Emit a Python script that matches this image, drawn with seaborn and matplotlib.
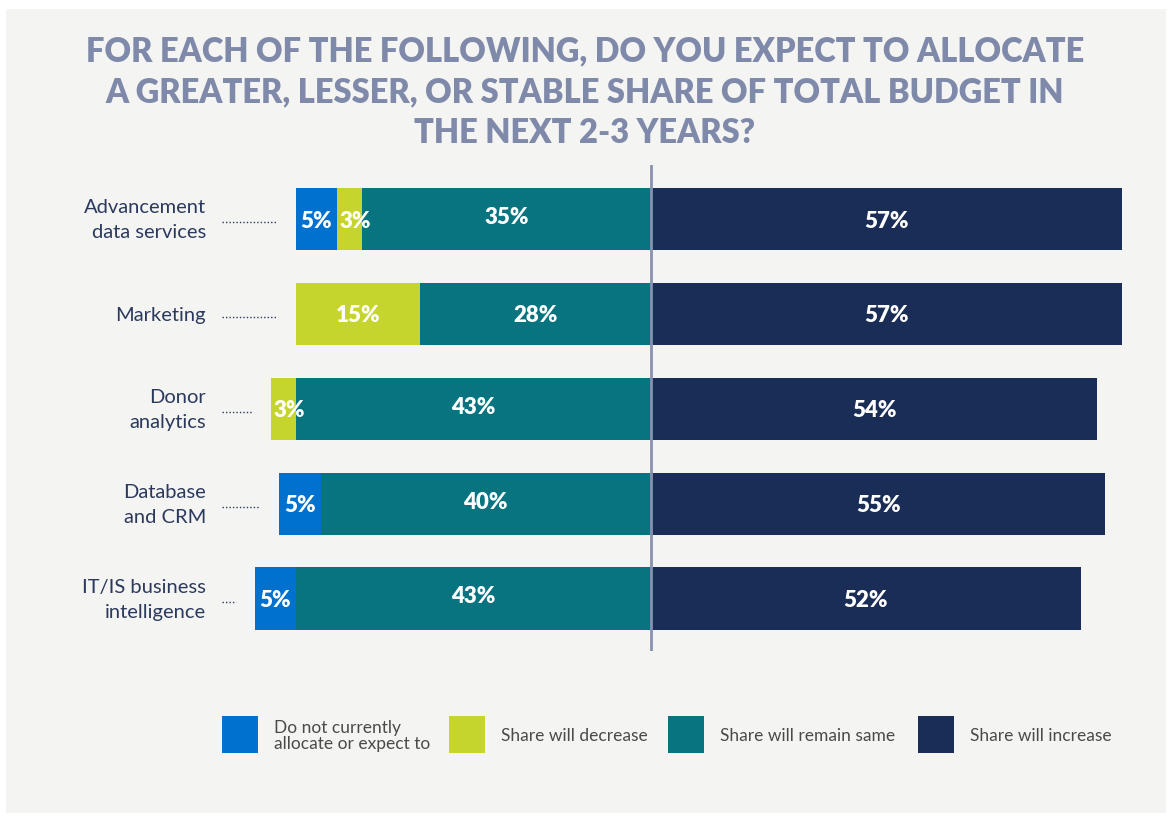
import matplotlib
matplotlib.use("Agg")
import matplotlib.pyplot as plt
import matplotlib.patches as mpatches
import seaborn as sns
import pandas as pd

categories = ["Advancement\ndata services", "Marketing", "Donor\nanalytics",
              "Database\nand CRM", "IT/IS business\nintelligence"]
do_not = [5, 0, 0, 5, 5]
decrease = [3, 15, 3, 0, 0]
remain = [35, 28, 43, 40, 43]
increase = [57, 57, 54, 55, 52]
series_names = ["Do not currently\nallocate or expect to", "Share will decrease",
                "Share will remain same", "Share will increase"]
title = "FOR EACH OF THE FOLLOWING, DO YOU EXPECT TO ALLOCATE\nA GREATER, LESSER, OR STABLE SHARE OF TOTAL BUDGET IN\nTHE NEXT 2-3 YEARS?"

colors = ["#0071ce", "#c5d52e", "#077480", "#1a2d57"]
BG = "#f4f4f2"

sns.set_theme(style="white")
plt.rcParams['font.family'] = ['Lato', 'DejaVu Sans']

W, H = 1174, 820
fig = plt.figure(figsize=(W / 100, H / 100), dpi=100)
fig.patch.set_facecolor("white")
fig.patches.append(mpatches.Rectangle((6 / W, 1 - 814 / H), 1160 / W, 804 / H,
                                      transform=fig.transFigure, facecolor=BG,
                                      edgecolor="none", zorder=-10))

ppu = 8.26  # px per percent
cx = 651
axl, axr = 150, 1150
ax = fig.add_axes([axl / W, 1 - 652 / H, (axr - axl) / W, (652 - 166) / H])
ax.set_facecolor("none")

df = pd.DataFrame({"cat": categories, "do": do_not, "dec": decrease,
                   "rem": remain, "inc": increase})
df["left_total"] = -(df["do"] + df["dec"] + df["rem"])
df["left_dec"] = -(df["dec"] + df["rem"])
df["left_rem"] = -df["rem"]

for col, c in [("left_total", colors[0]), ("left_dec", colors[1]),
               ("left_rem", colors[2]), ("inc", colors[3])]:
    sns.barplot(data=df, y="cat", x=col, orient="h", color=c, width=0.66,
                saturation=1, ax=ax, linewidth=0, edgecolor="none")

ax.set_xlim((axl - cx) / ppu, (axr - cx) / ppu)
ax.set_ylim(4.55, -0.57)
for s in ax.spines.values():
    s.set_visible(False)
ax.set_xticks([])
ax.set_yticks([])
ax.set_xlabel("")
ax.set_ylabel("")
ax.axvline(0, color="#8a90b0", lw=2, zorder=5)

lab_kw = dict(color="white", fontsize=16, fontweight="heavy", ha="center", va="center",
              zorder=6, family=['Lato', 'DejaVu Sans'])
for i in range(len(categories)):
    d, de, r, inc = do_not[i], decrease[i], remain[i], increase[i]
    segs = [(-(d + de + r), -(de + r), d), (-(de + r), -r, de), (-r, 0, r), (0, inc, inc)]
    for k, (a, b, v) in enumerate(segs):
        if v > 0:
            xo = 0.7 if (k < 2 and v < 5) else 0
            yo = -0.03 if (k == 2 and (d + de) < 10) else 0.01
            ax.text((a + b) / 2 + xo, i + yo, f"{v}%", **lab_kw)
    # category label
    ax.text((206 - cx) / ppu, i, categories[i], ha="right", va="center",
            fontsize=14.5, color="#2b3a5c", linespacing=1.6)
    left = -(d + de + r)
    x0 = (222 - cx) / ppu
    x1 = left - 19 / ppu
    ax.plot([x0, x1], [i + 0.03, i + 0.03], color="#2b3a5c", lw=1, ls=(0, (1, 1.5)))

fig.text(585 / W, 1 - 92 / H, title, ha="center", va="center", fontsize=23.5,
         fontweight="heavy", color="#7f89a9", linespacing=1.33)

# legend
leg_x = [222, 449, 668, 918]
for k in range(4):
    fig.patches.append(mpatches.Rectangle((leg_x[k] / W, 1 - 754 / H), 36 / W, 37 / H,
                                          transform=fig.transFigure,
                                          facecolor=colors[k], edgecolor="none"))
    fig.text((leg_x[k] + 52) / W, 1 - 736 / H, series_names[k], ha="left", va="center",
             fontsize=12.5, color="#4a4a4a", linespacing=1.0)

fig.savefig("out.png", dpi=100, facecolor="white")
